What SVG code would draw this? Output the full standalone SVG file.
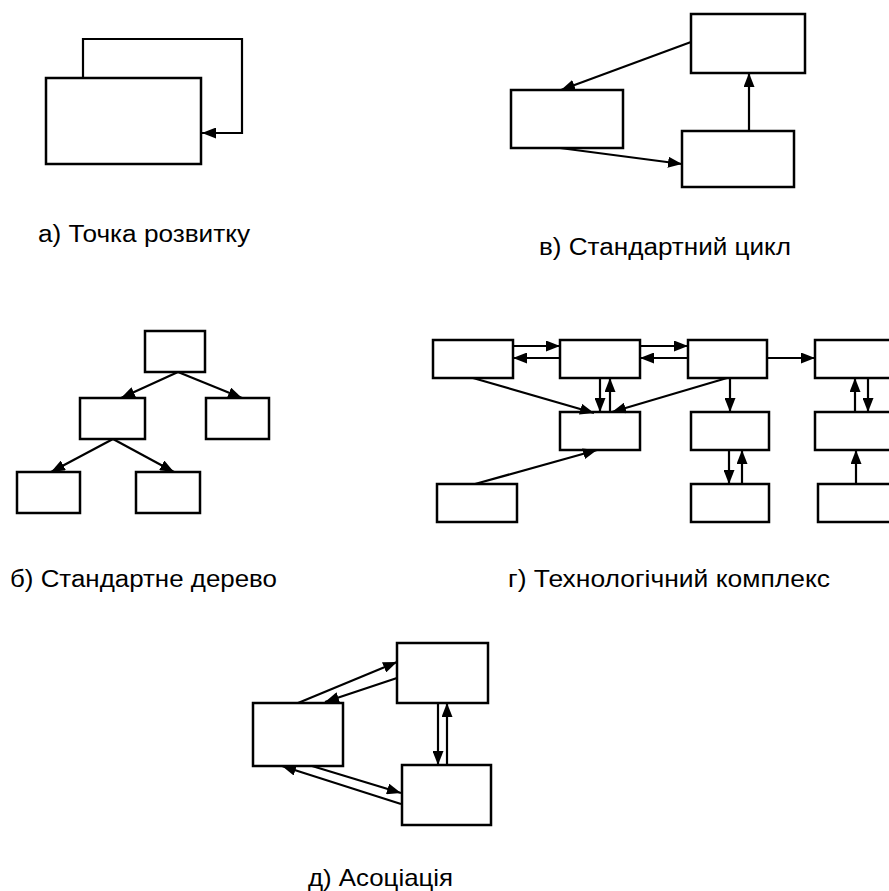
<svg xmlns="http://www.w3.org/2000/svg" width="889" height="891" viewBox="0 0 889 891">
<style>
.n{fill:#fff;stroke:#000;stroke-width:2.5}
.c{fill:none;stroke:#000;stroke-width:2.2;marker-end:url(#ah)}
.t{font-family:"Liberation Sans",Arial,sans-serif;font-size:23px;fill:#000}
</style>
<defs>
<marker id="ah" viewBox="0 0 14 11" refX="14" refY="5.5" markerWidth="14" markerHeight="11" markerUnits="userSpaceOnUse" orient="auto">
<path d="M0,0 L14,5.5 L0,11 z" fill="#000"/>
</marker>
</defs>
<rect width="889" height="891" fill="#fff"/>

<!-- а) -->
<g id="a-box"><rect class="n" x="46" y="78" width="155" height="86"/></g>
<g id="a-conn"><path class="c" d="M83,78 V39 H242 V133 H202"/></g>
<text class="t" x="38" y="242" textLength="212" lengthAdjust="spacingAndGlyphs">а) Точка розвитку</text>

<!-- в) -->
<g id="v-top"><rect class="n" x="691" y="14" width="114" height="59"/></g>
<g id="v-left"><rect class="n" x="511" y="90" width="112" height="58"/></g>
<g id="v-bot"><rect class="n" x="682" y="131" width="112" height="56"/></g>
<g id="v-conn">
<path class="c" d="M691,42 L561,90"/>
<path class="c" d="M560,148 L682,164"/>
<path class="c" d="M749,131 V73"/>
</g>
<text class="t" x="539" y="255" textLength="252" lengthAdjust="spacingAndGlyphs">в) Стандартний цикл</text>

<!-- б) -->
<g id="b-root"><rect class="n" x="145" y="331" width="60" height="41"/></g>
<g id="b-ml"><rect class="n" x="80" y="398" width="65" height="41"/></g>
<g id="b-mr"><rect class="n" x="206" y="398" width="63" height="41"/></g>
<g id="b-bl"><rect class="n" x="17" y="472" width="63" height="41"/></g>
<g id="b-br"><rect class="n" x="136" y="472" width="64" height="41"/></g>
<g id="b-conn">
<path class="c" d="M178,372 L121,398"/>
<path class="c" d="M178,372 L242,398"/>
<path class="c" d="M113,439 L51,472"/>
<path class="c" d="M113,439 L174,472"/>
</g>
<text class="t" x="10" y="587" textLength="267" lengthAdjust="spacingAndGlyphs">б) Стандартне дерево</text>

<!-- г) -->
<g id="g-r1"><rect class="n" x="433" y="340" width="80" height="38"/></g>
<g id="g-r2"><rect class="n" x="560" y="340" width="80" height="38"/></g>
<g id="g-r3"><rect class="n" x="688" y="340" width="79" height="38"/></g>
<g id="g-r4"><rect class="n" x="815" y="340" width="85" height="38"/></g>
<g id="g-r5"><rect class="n" x="560" y="412" width="80" height="38"/></g>
<g id="g-r6"><rect class="n" x="691" y="412" width="78" height="38"/></g>
<g id="g-r7"><rect class="n" x="815" y="412" width="85" height="38"/></g>
<g id="g-r8"><rect class="n" x="437" y="484" width="80" height="38"/></g>
<g id="g-r9"><rect class="n" x="691" y="484" width="78" height="38"/></g>
<g id="g-r10"><rect class="n" x="818" y="484" width="82" height="38"/></g>
<g id="g-conn">
<path class="c" d="M513,346 H560"/>
<path class="c" d="M560,358 H513"/>
<path class="c" d="M640,346 H688"/>
<path class="c" d="M688,358 H640"/>
<path class="c" d="M767,358 H815"/>
<path class="c" d="M600,378 V412"/>
<path class="c" d="M610,412 V378"/>
<path class="c" d="M473,378 L594,413"/>
<path class="c" d="M727,378 L612,412"/>
<path class="c" d="M475,484 L597,450"/>
<path class="c" d="M730,378 V412"/>
<path class="c" d="M729,450 V484"/>
<path class="c" d="M742,484 V450"/>
<path class="c" d="M855,412 V378"/>
<path class="c" d="M868,378 V412"/>
<path class="c" d="M856,484 V450"/>
</g>
<text class="t" x="508" y="587" textLength="322" lengthAdjust="spacingAndGlyphs">г) Технологічний комплекс</text>

<!-- д) -->
<g id="d-top"><rect class="n" x="397" y="643" width="91" height="60"/></g>
<g id="d-left"><rect class="n" x="253" y="703" width="90" height="63"/></g>
<g id="d-bot"><rect class="n" x="402" y="765" width="89" height="60"/></g>
<g id="d-conn">
<path class="c" d="M298,703 L397,662"/>
<path class="c" d="M397,678 L325,702"/>
<path class="c" d="M438,703 V765"/>
<path class="c" d="M447,765 V703"/>
<path class="c" d="M312,766 L401,793"/>
<path class="c" d="M401,804 L282,766"/>
</g>
<text class="t" x="308" y="886" textLength="145" lengthAdjust="spacingAndGlyphs" style="font-size:24px">д) Асоціація</text>
</svg>
